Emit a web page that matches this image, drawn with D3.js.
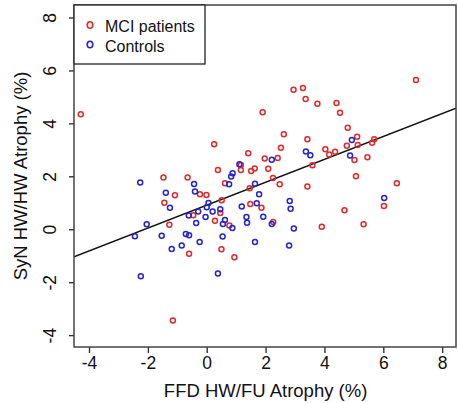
<!DOCTYPE html>
<html>
<head>
<meta charset="utf-8">
<script src="https://cdn.jsdelivr.net/npm/d3@7/dist/d3.min.js"></script>
<style>
  body { margin: 0; background: #fff; }
  text { font-family: "Liberation Sans", Arial, sans-serif; fill: #111; }
</style>
</head>
<body>
<div class="chart"></div>
<script>
// MCI patients: [FFD atrophy, SyN atrophy]
const mciX = [-4.28, 0.25, 1.41, 0.38, 1.16, 1.16, 1.51, 1.63, -1.47, -0.65, 0.62, -1.08, -1.44, -0.23, -0.01, 0.51,
  0.46, -0.46, 0.28, -1.27, 0.77, 1.48, 1.46, -0.60, 0.50, 0.94, -1.15, 7.11, 2.95, 3.27, 3.36, 3.76,
  4.41, 4.53, 1.90, 4.79, 2.62, 3.42, 5.11, 5.13, 4.76, 5.69, 5.62, 2.52, 4.03, 4.36, 4.16, 1.97,
  2.41, 5.46, 5.02, 3.59, 2.09, 5.07, 2.25, 2.48, 3.42, 6.46, 1.86, 6.02, 4.68, 2.26, 3.91, 5.33];
const mciY = [4.36, 3.23, 2.89, 2.26, 2.45, 2.26, 2.22, 2.31, 1.97, 1.97, 1.76, 1.30, 1.02, 1.34, 1.31, 1.11,
  0.63, 0.55, 0.34, 0.19, 0.16, 0.97, 1.57, -0.91, -0.74, -1.04, -3.43, 5.66, 5.29, 5.35, 4.94, 4.76,
  4.79, 4.42, 4.44, 3.85, 3.61, 3.42, 3.51, 3.20, 3.17, 3.42, 3.29, 3.10, 3.04, 2.95, 2.84, 2.69,
  2.71, 2.74, 2.63, 2.44, 2.30, 2.02, 1.95, 1.72, 1.63, 1.76, 0.83, 0.90, 0.74, 0.29, 0.11, 0.21];

// Controls
const ctlX = [-2.26, 1.11, 0.88, 0.83, 0.76, -0.43, -1.39, -0.40, -1.25, 0.06, 0.00, 0.20, 0.46, -0.29, -0.61, -0.04,
  0.62, 0.55, 0.87, 1.19, 1.35, 1.37, 1.70, -2.04, -2.44, -1.53, -0.71, -0.60, -0.36, 0.54, -0.24, -0.85,
  -1.19, 1.64, 4.93, 4.87, 3.37, 3.52, 2.21, 1.64, 1.78, 2.82, 2.85, 1.92, 2.21, 2.96, 6.03, 2.80,
  -2.24, 0.38];
const ctlY = [1.78, 2.47, 2.13, 2.01, 1.72, 1.73, 1.40, 1.44, 0.83, 1.01, 0.85, 0.69, 0.77, 0.69, 0.54, 0.48,
  0.37, 0.22, 0.07, 0.88, 0.48, 0.26, 1.00, 0.21, -0.25, -0.23, -0.16, -0.21, 0.25, -0.26, -0.46, -0.60,
  -0.73, -0.46, 3.39, 2.80, 2.96, 2.81, 2.64, 1.74, 1.34, 1.09, 0.79, 0.49, 0.22, 0.05, 1.20, -0.60,
  -1.76, -1.65];

// Fitted line
const fitIntercept = 0.93;
const fitSlope = 0.432;

const xTicks = [-4, -2, 0, 2, 4, 6, 8];
const yTicks = [-4, -2, 0, 2, 4, 6, 8];
const legendLabels = ["MCI patients", "Controls"];
const legendColors = ["#e02a2a", "#2424d4"];

// Sets the size of the svg and the plot box
const svgWidth = 458;
const svgHeight = 403;
const margin = { top: 5, right: 2, bottom: 56, left: 74 };
const width = svgWidth - margin.left - margin.right;
const height = svgHeight - margin.top - margin.bottom;

const svg = d3.select(".chart").append("svg")
  .attr("width", svgWidth)
  .attr("height", svgHeight);

const chart = svg.append("g")
  .attr("transform", "translate(" + margin.left + "," + margin.top + ")");

// Scales
const xLinearScale = d3.scaleLinear().domain([-4.51, 8.47]).range([0, width]);
const yLinearScale = d3.scaleLinear().domain([-4.43, 8.49]).range([height, 0]);

// Clip for the fit line
chart.append("clipPath").attr("id", "plotclip")
  .append("rect").attr("width", width).attr("height", height);

// Axes (ticks outward, labels R style)
const bottomAxis = d3.axisBottom(xLinearScale).tickValues(xTicks).tickSize(6).tickPadding(4)
  .tickFormat(d => d < 0 ? "-" + Math.abs(d) : d);
const leftAxis = d3.axisLeft(yLinearScale).tickValues(yTicks).tickSize(5)
  .tickFormat(d => d < 0 ? "-" + Math.abs(d) : d);

const xAxisG = chart.append("g")
  .attr("transform", "translate(0," + height + ")")
  .call(bottomAxis);
xAxisG.select(".domain").remove();
xAxisG.selectAll("line").attr("stroke", "#333").attr("stroke-width", 1.4);
xAxisG.selectAll("text").style("font-size", "17.5px").attr("fill", "#111");

const yAxisG = chart.append("g").call(leftAxis);
yAxisG.select(".domain").remove();
yAxisG.selectAll("line").attr("stroke", "#333").attr("stroke-width", 1.4);
yAxisG.selectAll("text")
  .style("font-size", "17.5px")
  .attr("fill", "#111")
  .attr("text-anchor", "middle")
  .attr("x", null)
  .attr("dy", null)
  .attr("transform", d => "translate(-18," + yLinearScale(d) + ") rotate(-90)")
  .attr("y", 0);
yAxisG.selectAll(".tick").attr("transform", null);
yAxisG.selectAll(".tick line")
  .attr("y1", d => yLinearScale(d)).attr("y2", d => yLinearScale(d));

// Regression line
chart.append("line")
  .attr("clip-path", "url(#plotclip)")
  .attr("x1", xLinearScale(-4.51))
  .attr("y1", yLinearScale(fitIntercept + fitSlope * -4.51))
  .attr("x2", xLinearScale(8.47))
  .attr("y2", yLinearScale(fitIntercept + fitSlope * 8.47))
  .attr("stroke", "#111")
  .attr("stroke-width", 1.5);

// Points, MCI first then controls on top
function drawPoints(xs, ys, color) {
  chart.append("g")
    .selectAll("circle")
    .data(xs.map((x, i) => [x, ys[i]]))
    .enter()
    .append("circle")
    .attr("cx", d => xLinearScale(d[0]))
    .attr("cy", d => yLinearScale(d[1]))
    .attr("r", 2.5)
    .attr("fill", "none")
    .attr("stroke", color)
    .attr("stroke-width", 1.5);
}
drawPoints(mciX, mciY, legendColors[0]);
drawPoints(ctlX, ctlY, legendColors[1]);

// Plot box
chart.append("rect")
  .attr("width", width)
  .attr("height", height)
  .attr("fill", "none")
  .attr("stroke", "#444")
  .attr("stroke-width", 1.5);

// Legend
const legend = chart.append("g");
legend.append("rect")
  .attr("x", 0).attr("y", 0)
  .attr("width", 131).attr("height", 59)
  .attr("fill", "#fff")
  .attr("stroke", "#222")
  .attr("stroke-width", 1.3);

legendLabels.forEach(function(label, i) {
  legend.append("ellipse")
    .attr("cx", 16)
    .attr("cy", 20 + i * 19.5)
    .attr("rx", 2.8).attr("ry", 3.3)
    .attr("fill", "none")
    .attr("stroke", legendColors[i])
    .attr("stroke-width", 1.6);
  legend.append("text")
    .attr("x", 31)
    .attr("y", 26.5 + i * 20)
    .style("font-size", "16px")
    .text(label);
});

// Axis titles
svg.append("text")
  .attr("x", margin.left + xLinearScale(2))
  .attr("y", 397)
  .attr("text-anchor", "middle")
  .style("font-size", "18.5px")
  .text("FFD HW/FU Atrophy (%)");

svg.append("text")
  .attr("transform", "translate(27," + (margin.top + height / 2) + ") rotate(-90)")
  .attr("text-anchor", "middle")
  .style("font-size", "18.5px")
  .text("SyN HW/HW Atrophy (%)");
</script>
</body>
</html>
